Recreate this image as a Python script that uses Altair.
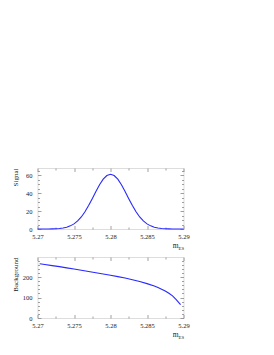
import altair as alt
import pandas as pd

# Signal (Gaussian-shaped) readings
sig_x = [5.2700, 5.2705, 5.2710, 5.2715, 5.2720, 5.2725, 5.2730, 5.2735, 5.2740, 5.2745,
         5.2750, 5.2755, 5.2760, 5.2765, 5.2770, 5.2775, 5.2780, 5.2785, 5.2790, 5.2795,
         5.2800, 5.2805, 5.2810, 5.2815, 5.2820, 5.2825, 5.2830, 5.2835, 5.2840, 5.2845,
         5.2850, 5.2855, 5.2860, 5.2865, 5.2870, 5.2875, 5.2880, 5.2885, 5.2890, 5.2895,
         5.2900]
sig_y = [0.0, 0.01, 0.03, 0.07, 0.14, 0.30, 0.59, 1.1, 2.0, 3.5,
         5.7, 9.0, 13.4, 19.2, 26.1, 33.8, 41.8, 49.3, 55.5, 59.6,
         61.0, 59.6, 55.5, 49.3, 41.8, 33.8, 26.1, 19.2, 13.4, 9.0,
         5.7, 3.5, 2.0, 1.1, 0.59, 0.30, 0.14, 0.07, 0.03, 0.01,
         0.0]

# Background (ARGUS-like) readings
bkg_x = [5.2703, 5.271, 5.272, 5.273, 5.274, 5.275, 5.276, 5.277, 5.278, 5.279,
         5.280, 5.281, 5.282, 5.283, 5.284, 5.285, 5.286, 5.2865, 5.287, 5.2875,
         5.288, 5.2885, 5.289, 5.2893, 5.2896]
bkg_y = [265, 261, 256, 251, 245, 239, 233, 227, 221, 215,
         209, 202, 195, 187, 178, 168, 156, 149, 141, 132,
         121, 108, 90, 78, 65]

x_major = [5.27, 5.275, 5.28, 5.285, 5.29]
x_minor = [5.2725, 5.2775, 5.2825, 5.2875]
sig_major = [0, 20, 40, 60]
sig_minor = [5, 10, 15, 25, 30, 35, 45, 50, 55, 65]
bkg_major = [0, 100, 200]
bkg_minor = [20, 40, 60, 80, 120, 140, 160, 180, 220, 240, 260, 280]

FONT = "Liberation Serif"
TICK = "#888888"
TXT = "#222222"
LINE = "#2828ff"
W, H = 146, 61
MAJ, MIN = 3.5, 2.0


def axis(orient, values, size, labels=False, **kw):
    return alt.Axis(orient=orient, values=values, tickSize=size, offset=-size,
                    domain=False, grid=False, labels=labels, labelFlush=False,
                    tickColor=TICK, tickWidth=0.8, labelFont=FONT, labelFontSize=6.5,
                    labelColor=TXT, titleFont=FONT, titleFontWeight="normal",
                    titleColor=TXT, **kw)


def panel(xs, ys, ydom, ymaj, ymin, ytitle):
    df = pd.DataFrame({"x": xs, "y": ys})
    xs_ = alt.Scale(domain=[5.27, 5.29], nice=False, zero=False)
    ys_ = alt.Scale(domain=ydom, nice=False)
    base = alt.Chart(df)
    main = base.mark_line(color=LINE, strokeWidth=1.1).encode(
        x=alt.X("x:Q", scale=xs_, axis=axis("bottom", x_major, MAJ, True, format="~g",
                                             labelPadding=4.5, title="m", titleFontSize=7.5,
                                             titleAlign="right", titleBaseline="alphabetic",
                                             titleX=W - 5.5, titleY=22.5 + MAJ - 4)),
        y=alt.Y("y:Q", scale=ys_, axis=axis("left", ymaj, MAJ, True, labelPadding=5.5,
                                             title=ytitle, titleFontSize=7, titleAngle=-90,
                                             titleAlign="right", titleBaseline="alphabetic",
                                             titleX=-20 - MAJ, titleY=0)),
    )
    minor_bl = base.mark_line(strokeOpacity=0).encode(
        x=alt.X("x:Q", scale=xs_, axis=axis("bottom", x_minor, MIN, title="ES",
                                             titleFontSize=4.8, titleAlign="left",
                                             titleBaseline="alphabetic",
                                             titleX=W - 5.5, titleY=24 + MIN - 4)),
        y=alt.Y("y:Q", scale=ys_, axis=axis("left", ymin, MIN, title=None)),
    )
    major_tr = base.mark_line(strokeOpacity=0).encode(
        x=alt.X("x:Q", scale=xs_, axis=axis("top", x_major, MAJ, title=None)),
        y=alt.Y("y:Q", scale=ys_, axis=axis("right", ymaj, MAJ, title=None)),
    )
    minor_tr = base.mark_line(strokeOpacity=0).encode(
        x=alt.X("x:Q", scale=xs_, axis=axis("top", x_minor, MIN, title=None)),
        y=alt.Y("y:Q", scale=ys_, axis=axis("right", ymin, MIN, title=None)),
    )
    return alt.layer(main, minor_bl, major_tr, minor_tr).resolve_axis(
        x="independent", y="independent").properties(width=W, height=H)


top = panel(sig_x, sig_y, [0, 68], sig_major, sig_minor, "Signal")
bottom = panel(bkg_x, bkg_y, [0, 298], bkg_major, bkg_minor, "Background")

chart = alt.vconcat(top, bottom, spacing=5).properties(
    padding={"left": 2.5, "top": 159, "right": 5, "bottom": 5}
).configure_view(stroke="#999999", strokeWidth=1).configure(background="white")

chart.save("out.html", embed_options={"renderer": "svg", "actions": False})
